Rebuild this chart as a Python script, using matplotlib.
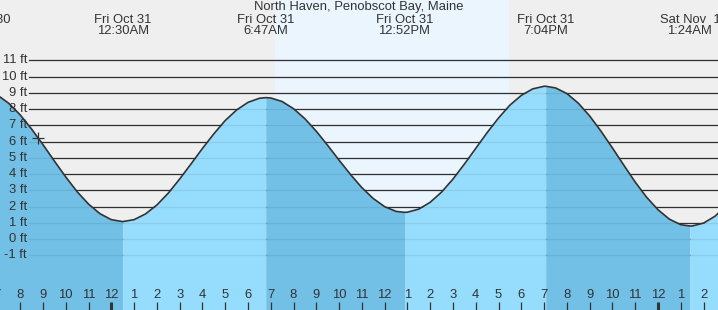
import matplotlib
matplotlib.use("Agg")
import matplotlib.pyplot as plt
import matplotlib.transforms as mtrans
import numpy as np

plt.rcParams['font.family'] = ['Liberation Sans', 'DejaVu Sans']

title = "North Haven, Penobscot Bay, Maine"

# hours counted from midnight Fri Oct 31, heights in ft
hours = [-5.5, -5.0, -4.5, -4.0, -3.5, -3.0, -2.5, -2.0, -1.5, -1.0, -0.5, 0.0,
         1.0, 1.5, 2.0, 2.5, 3.0, 3.5, 4.0, 4.5, 5.0, 5.5, 6.0, 6.5,
         7.0, 7.5, 8.0, 8.5, 9.0, 9.5, 10.0, 10.5, 11.0, 11.5, 12.0, 12.5,
         13.0, 13.5, 14.0, 14.5, 15.0, 15.5, 16.0, 16.5, 17.0, 17.5, 18.0, 18.5, 19.0,
         19.5, 20.0, 20.5, 21.0, 21.5, 22.0, 22.5, 23.0, 23.5, 24.0, 24.5, 25.0,
         25.5, 26.0, 26.5, 27.0]
heights = [9.15, 8.86, 8.35, 7.64, 6.77, 5.81, 4.80, 3.82, 2.91, 2.15, 1.56, 1.19,
           1.19, 1.54, 2.09, 2.82, 3.69, 4.62, 5.57, 6.47, 7.29, 7.94, 8.41, 8.66,
           8.68, 8.46, 8.02, 7.40, 6.63, 5.76, 4.85, 3.97, 3.16, 2.49, 1.99, 1.70,
           1.65, 1.84, 2.26, 2.89, 3.69, 4.61, 5.58, 6.55, 7.45, 8.24, 8.84, 9.24, 9.40,
           9.30, 8.95, 8.36, 7.57, 6.63, 5.60, 4.54, 3.50, 2.57, 1.80, 1.22, 0.88,
           0.80, 0.98, 1.40, 2.05]

ext_hours = [-5.83, 0.50, 6.78, 12.87, 19.07, 25.40]
ext_heights = [9.20, 1.07, 8.70, 1.64, 9.40, 0.80]
ext_dates = ["Thu Oct 30", "Fri Oct 31", "Fri Oct 31", "Fri Oct 31", "Fri Oct 31", "Sat Nov  1"]
ext_times = ["6:10PM", "12:30AM", "6:47AM", "12:52PM", "7:04PM", "1:24AM"]

sunrise, sunset = 7.2, 17.46
now_hour, now_height = -3.23, 6.23
ft_levels = list(range(-1, 12))

t = np.array(hours + ext_hours)
v = np.array(heights + ext_heights)
order = np.argsort(t)
t, v = t[order], v[order]

W, H = 718, 310
x0, x1 = -4.886, 26.633
y0, y1 = -4.37, 14.71
ink = '#333333'

fig = plt.figure(figsize=(W / 100, H / 100), dpi=100)
ax = fig.add_axes([0, 0, 1, 1])
ax.set_xlim(x0, x1)
ax.set_ylim(y0, y1)
ax.axis('off')
mix = mtrans.blended_transform_factory(ax.transData, ax.transAxes)

# night / day sky
ax.axvspan(x0, sunrise, color='#efefef', lw=0, zorder=0)
ax.axvspan(sunrise, sunset, color='#ebf5fe', lw=0, zorder=0)
ax.axvspan(sunset, x1, color='#efefef', lw=0, zorder=0)

for lev in ft_levels:
    ax.axhline(lev, xmin=29 / W, xmax=1, color=ink, lw=0.9, zorder=1)
    ax.axhline(lev, xmin=29 / W, xmax=1, color='black', alpha=0.07, lw=0.9, zorder=3)
    ax.text(27 / W, lev, f"{lev} ft", transform=mtrans.blended_transform_factory(ax.transAxes, ax.transData),
            ha='right', va='center', fontsize=9.4, color=ink, zorder=5)

# water: falling tide dark, rising light
for i, start in enumerate(ext_hours):
    end = ext_hours[i + 1] if i + 1 < len(ext_hours) else t.max()
    m = (t >= start) & (t <= end)
    falling = v[m][0] > v[m][-1]
    ax.fill_between(t[m], v[m], y0, color='#72c0e6' if falling else '#96dcfc', lw=0, zorder=2)

ax.plot(t, v, color=ink, lw=1.2, zorder=4)
ax.plot([now_hour], [now_height], marker='+', ms=9, mew=0.9, color=ink, zorder=5)

ax.text(0.5, 1 - 7 / H, title, transform=ax.transAxes, ha='center', va='center', fontsize=9.4, color=ink)
for h, d, tm in zip(ext_hours, ext_dates, ext_times):
    ax.text(h, 1 - 20 / H, d, transform=mix, ha='center', va='center', fontsize=9.4, color=ink)
    ax.text(h, 1 - 31 / H, tm, transform=mix, ha='center', va='center', fontsize=9.4, color=ink)

for h in range(-5, 27):
    hod = h % 24
    lab = hod % 12 or 12
    ax.text(h, 1 - 295.5 / H, str(lab), transform=mix, ha='center', va='center', fontsize=9.4, color=ink)
    ax.plot([h, h], [1 - 302 / H, 0], transform=mix, color=ink, lw=2.2 if hod == 0 else 0.9,
            solid_capstyle='butt', zorder=5)

fig.savefig('out.png', dpi=100)
